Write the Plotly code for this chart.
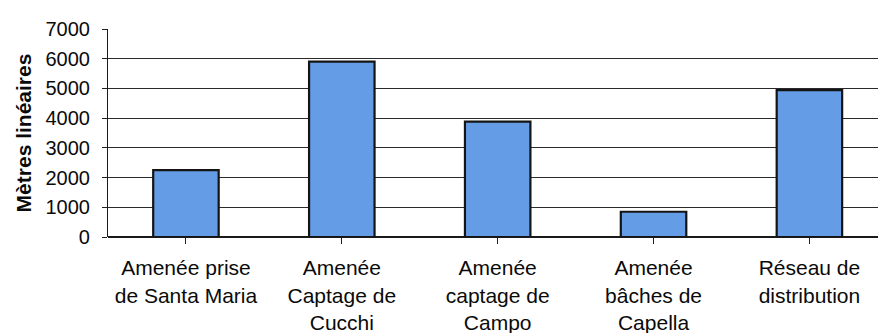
import plotly.graph_objects as go

# Linear metres per network section
categories = [
    "Amenée prise<br>de Santa Maria",
    "Amenée<br>Captage de<br>Cucchi",
    "Amenée<br>captage de<br>Campo",
    "Amenée<br>bâches de<br>Capella",
    "Réseau de<br>distribution",
]
metres = [2250, 5900, 3880, 850, 4940]
y_ticks = [0, 1000, 2000, 3000, 4000, 5000, 6000, 7000]

FONT = "Liberation Sans, Arial, Helvetica, sans-serif"

fig = go.Figure(
    go.Bar(
        x=list(range(len(categories))),
        y=metres,
        width=0.42,
        marker=dict(color="#659CE6", line=dict(color="#141414", width=2.2)),
    )
)

fig.update_layout(
    width=878,
    height=333,
    margin=dict(l=108, r=0, t=29, b=96),
    paper_bgcolor="white",
    plot_bgcolor="white",
    showlegend=False,
    font=dict(family=FONT, color="#0a0a0a"),
)

fig.update_xaxes(
    tickmode="array",
    tickvals=list(range(len(categories))),
    ticktext=categories,
    range=[-0.5, 4.44],
    tickson="boundaries",
    ticks="outside",
    ticklen=6,
    tickcolor="#222222",
    tickfont=dict(size=21, family=FONT),
    ticklabelstandoff=6,
    showline=False,
    showgrid=False,
    zeroline=False,
)

fig.update_yaxes(
    range=[0, 7000],
    tickvals=y_ticks,
    ticktext=[str(v) for v in y_ticks],
    ticks="outside",
    ticklen=5,
    tickcolor="#222222",
    tickfont=dict(size=20, family=FONT),
    ticklabelstandoff=8,
    showline=True,
    linecolor="#1a1a1a",
    linewidth=1.2,
    showgrid=True,
    gridcolor="#2a2a2a",
    gridwidth=1.2,
    zeroline=True,
    zerolinecolor="#1a1a1a",
    zerolinewidth=1.5,
    title=dict(
        text="<b>Mètres linéaires</b>",
        font=dict(size=21, family=FONT),
        standoff=8,
    ),
)

fig.write_html("out.html")
